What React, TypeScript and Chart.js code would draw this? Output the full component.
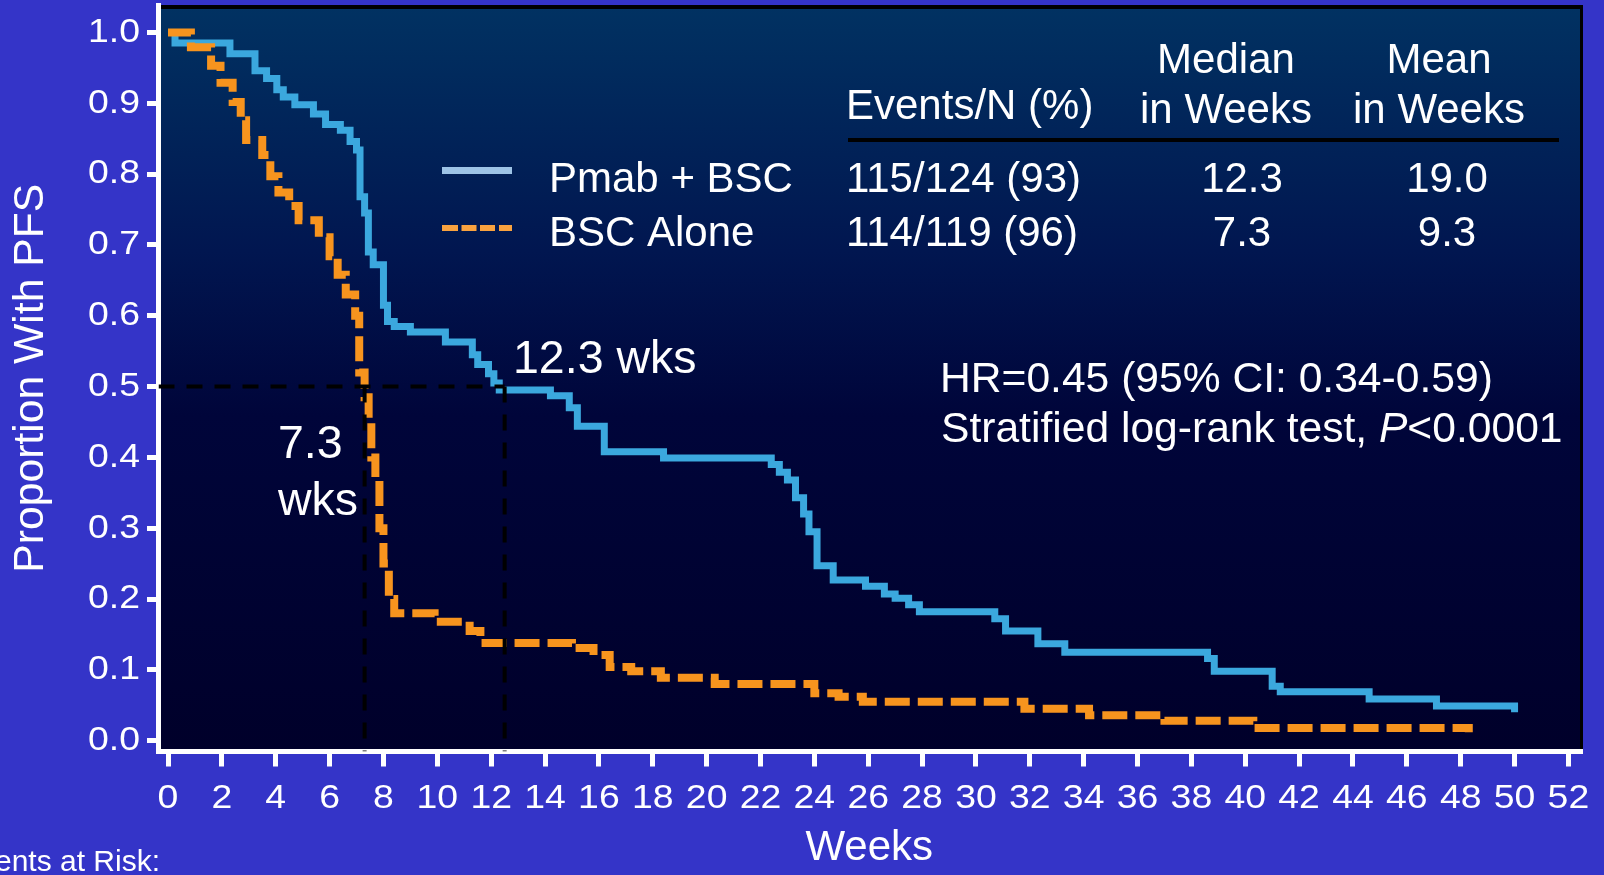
import React, { useEffect, useRef } from 'react';
import { Chart, registerables } from 'chart.js';

Chart.register(...registerables);

const FONT = '"Liberation Sans", Arial, Helvetica, sans-serif';
const TICK_SIZE = 34;
const TICK_STRETCH = 1.1;

// ---- axis ticks ----
const xTicks = [0, 2, 4, 6, 8, 10, 12, 14, 16, 18, 20, 22, 24, 26, 28, 30, 32, 34, 36, 38, 40, 42, 44, 46, 48, 50, 52];
const yTicks = [0, 0.1, 0.2, 0.3, 0.4, 0.5, 0.6, 0.7, 0.8, 0.9, 1.0];

// axis ranges (axes sit slightly outside 0)
const X_MIN = -0.353;
const X_MAX = 52.43;
const Y_MIN = -0.0153;
const Y_MAX = 1.0388;

// ---- Kaplan-Meier: Pmab + BSC (weeks, proportion) ----
const pmabTimes = [0, 0.26, 2.3, 3.23, 3.66, 4.04, 4.28, 4.71, 5.4, 5.85, 6.4, 6.76, 7.0, 7.13, 7.3, 7.44, 7.62, 8.0, 8.15, 8.4, 9.0, 10.3, 11.3, 11.5, 11.9, 12.1, 12.3, 14.2, 14.9, 15.2, 16.2, 18.4, 22.4, 22.7, 23.0, 23.3, 23.6, 23.8, 24.1, 24.7, 25.9, 26.6, 27.0, 27.5, 27.9, 30.7, 31.1, 32.3, 33.3, 38.6, 38.85, 41.0, 41.3, 44.6, 47.1, 50.0];
const pmabSurv = [1.0, 0.985, 0.97, 0.946, 0.935, 0.919, 0.909, 0.898, 0.885, 0.87, 0.862, 0.846, 0.834, 0.768, 0.745, 0.69, 0.672, 0.615, 0.592, 0.585, 0.577, 0.563, 0.545, 0.531, 0.518, 0.505, 0.495, 0.487, 0.47, 0.444, 0.408, 0.399, 0.39, 0.379, 0.368, 0.343, 0.32, 0.295, 0.247, 0.227, 0.218, 0.207, 0.201, 0.192, 0.182, 0.172, 0.155, 0.137, 0.125, 0.116, 0.098, 0.077, 0.069, 0.059, 0.049, 0.04];

// ---- Kaplan-Meier: BSC Alone ----
const bscTimes = [0, 0.85, 1.6, 1.95, 2.4, 2.7, 2.9, 3.5, 3.8, 4.1, 4.5, 4.85, 5.6, 6.0, 6.3, 6.6, 6.95, 7.1, 7.3, 7.45, 7.55, 7.7, 7.85, 8.0, 8.2, 8.4, 9.9, 11.2, 11.6, 15.0, 15.8, 16.4, 17.2, 18.3, 20.3, 24.0, 24.9, 25.8, 31.8, 34.2, 37.0, 40.3, 48.3];
const bscSurv = [1.0, 0.979, 0.953, 0.929, 0.902, 0.876, 0.848, 0.827, 0.797, 0.774, 0.755, 0.735, 0.711, 0.684, 0.658, 0.63, 0.6, 0.52, 0.485, 0.45, 0.4, 0.37, 0.3, 0.25, 0.2, 0.18, 0.168, 0.155, 0.138, 0.131, 0.121, 0.104, 0.098, 0.089, 0.08, 0.067, 0.062, 0.055, 0.045, 0.036, 0.028, 0.018, 0.012];

// ---- median reference lines ----
const medianLevel = 0.5;
const medianLineX = [7.3, 12.5];

// ---- table / legend text ----
const seriesNames = ['Pmab + BSC', 'BSC Alone'];
const eventsN = ['115/124 (93)', '114/119 (96)'];
const medianWeeks = ['12.3', '7.3'];
const meanWeeks = ['19.0', '9.3'];

const toPts = (ts: number[], ss: number[]) => ts.map((t, i) => ({ x: t, y: ss[i] }));

const bgPlugin = {
  id: 'bgPlugin',
  beforeDraw(chart: any) {
    const { ctx, chartArea: a, width, height } = chart;
    ctx.save();
    ctx.fillStyle = '#3434c8';
    ctx.fillRect(0, 0, width, height);
    const g = ctx.createLinearGradient(0, a.top, 0, a.bottom);
    g.addColorStop(0, '#013262');
    g.addColorStop(0.33, '#011650');
    g.addColorStop(0.55, '#00053a');
    g.addColorStop(1, '#00002a');
    ctx.fillStyle = g;
    ctx.fillRect(a.left, a.top, a.right - a.left, a.bottom - a.top);
    ctx.fillStyle = '#000';
    ctx.fillRect(a.left, a.top, a.right - a.left + 3, 4);
    ctx.fillRect(a.right, a.top, 3, a.bottom - a.top);
    ctx.restore();
  },
};

// tick labels drawn from the library's scales, slightly widened like the original
const tickLabelPlugin = {
  id: 'tickLabelPlugin',
  afterDraw(chart: any) {
    const ctx = chart.ctx as CanvasRenderingContext2D;
    const xs = chart.scales.x;
    const ys = chart.scales.y;
    ctx.save();
    ctx.fillStyle = '#fff';
    ctx.font = `${TICK_SIZE}px ${FONT}`;
    ctx.textBaseline = 'middle';
    xs.ticks.forEach((t: any) => {
      const px = xs.getPixelForValue(t.value);
      ctx.save();
      ctx.translate(px, xs.top + 46.8);
      ctx.scale(TICK_STRETCH, 1);
      ctx.textAlign = 'center';
      ctx.fillText(String(t.value), 0, 0);
      ctx.restore();
    });
    ys.ticks.forEach((t: any) => {
      const py = ys.getPixelForValue(t.value);
      ctx.save();
      ctx.translate(ys.right - 18.5, py);
      ctx.scale(TICK_STRETCH, 1);
      ctx.textAlign = 'right';
      ctx.fillText(Number(t.value).toFixed(1), 0, 0);
      ctx.restore();
    });
    ctx.restore();
  },
};

const annotPlugin = {
  id: 'annotPlugin',
  afterDraw(chart: any) {
    const ctx = chart.ctx as CanvasRenderingContext2D;
    ctx.save();
    ctx.fillStyle = '#fff';
    ctx.textBaseline = 'alphabetic';
    const put = (s: string, x: number, y: number, size: number, align: CanvasTextAlign = 'left', style = '') => {
      ctx.font = `${style} ${size}px ${FONT}`;
      ctx.textAlign = align;
      ctx.fillText(s, x, y);
    };
    // legend samples
    ctx.fillStyle = '#9dc3e6';
    ctx.fillRect(442, 167, 70, 7);
    ctx.fillStyle = '#f9a23f';
    [[442, 458], [461.5, 476.5], [480, 495], [499, 512]].forEach(([a, b]) => ctx.fillRect(a, 225, b - a, 6));
    ctx.fillStyle = '#fff';
    // table header
    put('Events/N (%)', 846, 119, 42);
    put('Median', 1226, 73, 42, 'center');
    put('in Weeks', 1226, 123, 42, 'center');
    put('Mean', 1439, 73, 42, 'center');
    put('in Weeks', 1439, 123, 42, 'center');
    ctx.fillStyle = '#000';
    ctx.fillRect(848, 138, 711, 4);
    ctx.fillStyle = '#fff';
    const rowY = [192, 245.5];
    seriesNames.forEach((n, i) => {
      put(n, 549, rowY[i], 42);
      put(eventsN[i], 846, rowY[i], 42);
      put(medianWeeks[i], 1242, rowY[i], 42, 'center');
      put(meanWeeks[i], 1447, rowY[i], 42, 'center');
    });
    // HR text
    const HR_SIZE = 42.6;
    put('HR=0.45 (95% CI: 0.34-0.59)', 940, 392, HR_SIZE);
    const s1 = 'Stratified log-rank test, ';
    let x = 941;
    put(s1, x, 442, HR_SIZE);
    ctx.font = `${HR_SIZE}px ${FONT}`;
    x += ctx.measureText(s1).width;
    put('P', x, 442, HR_SIZE, 'left', 'italic');
    ctx.font = `italic ${HR_SIZE}px ${FONT}`;
    x += ctx.measureText('P').width;
    put('<0.0001', x, 442, HR_SIZE);
    // median labels
    put('12.3 wks', 513, 373, 46.5);
    put('7.3', 278, 458, 46.5);
    put('wks', 278, 515, 46.5);
    // at risk
    put('Patients at Risk:', 160, 871, 30, 'right');
    ctx.restore();
  },
};

export default function App() {
  const ref = useRef<HTMLCanvasElement>(null);
  useEffect(() => {
    const refLine = {
      borderColor: '#000',
      borderWidth: 4,
      borderDash: [16, 12],
      pointRadius: 0,
      fill: false,
    };
    const chart = new Chart(ref.current as HTMLCanvasElement, {
      type: 'line',
      data: {
        datasets: [
          { ...refLine, label: 'h', data: [{ x: X_MIN, y: medianLevel }, { x: medianLineX[1], y: medianLevel }] },
          { ...refLine, label: 'v1', data: [{ x: medianLineX[0], y: medianLevel }, { x: medianLineX[0], y: Y_MIN }] },
          { ...refLine, label: 'v2', data: [{ x: medianLineX[1], y: medianLevel }, { x: medianLineX[1], y: Y_MIN }] },
          {
            label: seriesNames[1],
            data: toPts(bscTimes, bscSurv),
            stepped: 'before',
            borderColor: '#f7941e',
            borderWidth: 8,
            borderDash: [25, 8],
            borderCapStyle: 'butt',
            borderJoinStyle: 'miter',
            pointRadius: 0,
            fill: false,
          },
          {
            label: seriesNames[0],
            data: toPts(pmabTimes, pmabSurv),
            stepped: 'before',
            borderColor: '#3ba8de',
            borderWidth: 7,
            borderCapStyle: 'butt',
            borderJoinStyle: 'miter',
            pointRadius: 0,
            fill: false,
          },
        ],
      } as any,
      options: {
        animation: false,
        responsive: false,
        devicePixelRatio: 1,
        events: [],
        layout: { padding: { top: 5, right: 24, left: 0, bottom: 0 } },
        plugins: { legend: { display: false }, tooltip: { enabled: false } },
        scales: {
          x: {
            type: 'linear',
            min: X_MIN,
            max: X_MAX,
            afterBuildTicks: (s: any) => {
              s.ticks = xTicks.map((v) => ({ value: v }));
            },
            afterFit: (s: any) => {
              s.height = 123.5;
              s.paddingLeft = 0;
              s.paddingRight = 0;
            },
            grid: { display: true, drawOnChartArea: false, drawTicks: true, tickLength: 15, tickWidth: 5, tickColor: '#fff', color: '#fff', lineWidth: 5 },
            border: { display: true, color: '#fff', width: 5 },
            ticks: { display: false, autoSkip: false, maxRotation: 0 },
            title: { display: true, text: 'Weeks', color: '#fff', font: { family: FONT, size: 42, lineHeight: 1.2 }, padding: { top: 0, bottom: 1.4 } },
          },
          y: {
            type: 'linear',
            min: Y_MIN,
            max: Y_MAX,
            afterBuildTicks: (s: any) => {
              s.ticks = yTicks.map((v) => ({ value: v }));
            },
            afterFit: (s: any) => {
              s.width = 158.5;
              s.paddingTop = 0;
              s.paddingBottom = 0;
            },
            grid: { display: true, drawOnChartArea: false, drawTicks: true, tickLength: 11.5, tickWidth: 5, tickColor: '#fff', color: '#fff', lineWidth: 5 },
            border: { display: true, color: '#fff', width: 5 },
            ticks: { display: false },
            title: { display: true, text: 'Proportion With PFS', color: '#fff', font: { family: FONT, size: 42.7, lineHeight: 1.2 }, padding: { top: 6, bottom: 0 } },
          },
        },
      } as any,
      plugins: [bgPlugin, tickLabelPlugin, annotPlugin],
    });
    return () => chart.destroy();
  }, []);
  return (
    <div style={{ position: 'absolute', left: 0, top: 0, width: 1604, height: 875, overflow: 'hidden' }}>
      <canvas ref={ref} width={1604} height={875} style={{ display: 'block', width: 1604, height: 875 }} />
    </div>
  );
}
